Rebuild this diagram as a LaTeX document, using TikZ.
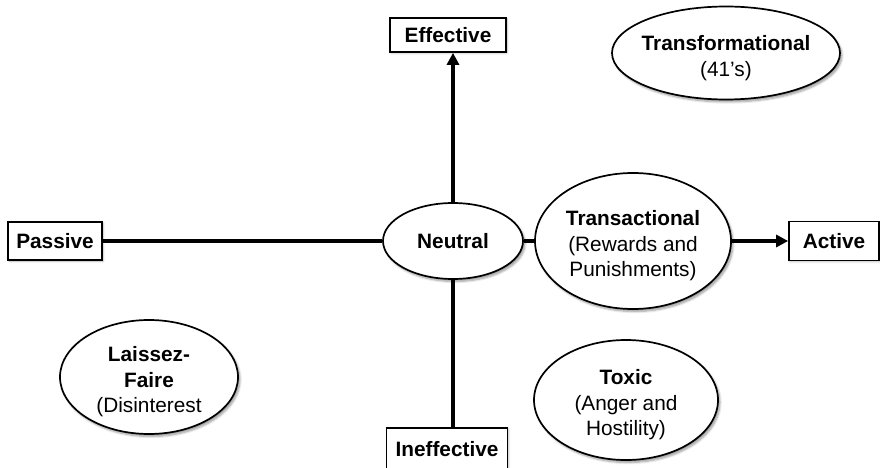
\documentclass[tikz,border=0pt]{standalone}
\usepackage{fontspec}
\setmainfont{Liberation Sans}
\usetikzlibrary{shapes.geometric,arrows.meta,shadows.blur}

\begin{document}
\begin{tikzpicture}[x=1pt,y=-1pt,
  every node/.style={font=\fontsize{20.8}{25.5}\selectfont, align=center, inner sep=0pt},
  labelbox/.style={draw, line width=1.7pt, fill=white, font=\fontsize{20.8}{25.5}\selectfont\bfseries,
    blur shadow={shadow xshift=1pt, shadow yshift=-1pt, shadow blur steps=4, shadow opacity=30}},
  style/.style={ellipse, draw, line width=1.7pt, fill=white,
    blur shadow={shadow xshift=2pt, shadow yshift=-2.5pt, shadow blur steps=6, shadow opacity=40}},
  inside/.style={yshift=-5pt},
  axis/.style={line width=3.4pt},
  tip/.style={axis, -{Triangle[length=12pt,width=12pt]}}
]
\useasboundingbox (0,0) rectangle (880,468);

% axis end labels
\node[labelbox, minimum width=116pt, minimum height=34pt] (eff) at (448,35) {Effective};
\node[labelbox, minimum width=94pt, minimum height=38pt] (pas) at (55,241) {Passive};
\node[labelbox, minimum width=90pt, minimum height=39pt] (act) at (834,241) {Active};
\node[labelbox, minimum width=121pt, minimum height=42pt] (ineff) at (447,449) {Ineffective};

% leadership styles: ellipse outlines, then their text set a little low
\node[style, minimum width=140pt, minimum height=76pt] (neu) at (453,241) {\bfseries Neutral};
\node[style, minimum width=196pt, minimum height=136pt] (tra) at (633,241) {};
\node[style, minimum width=228pt, minimum height=93pt] (tfm) at (726,53) {};
\node[style, minimum width=178pt, minimum height=114pt] (lf) at (149,377) {};
\node[style, minimum width=184pt, minimum height=120pt] (tox) at (626,400) {};

\node[inside] (traText) at (tra) {\textbf{Transactional}\\(Rewards and\\Punishments)};
\node[inside] (tfmText) at (tfm) {\textbf{Transformational}\\(41’s)};
\node[inside] (lfText) at (lf) {\textbf{Laissez-}\\\textbf{Faire}\\(Disinterest};
\node[inside] (toxText) at (tox) {\textbf{Toxic}\\(Anger and\\Hostility)};

% axes
\draw[tip] (neu.north) -- (neu.north |- eff.south);
\draw[axis] (neu.south) -- (neu.south |- ineff.north);
\draw[axis] (pas.east) -- (neu.west);
\draw[axis] (neu.east) -- (tra.west);
\draw[tip] (tra.east) -- (act.west);
\end{tikzpicture}
\end{document}
